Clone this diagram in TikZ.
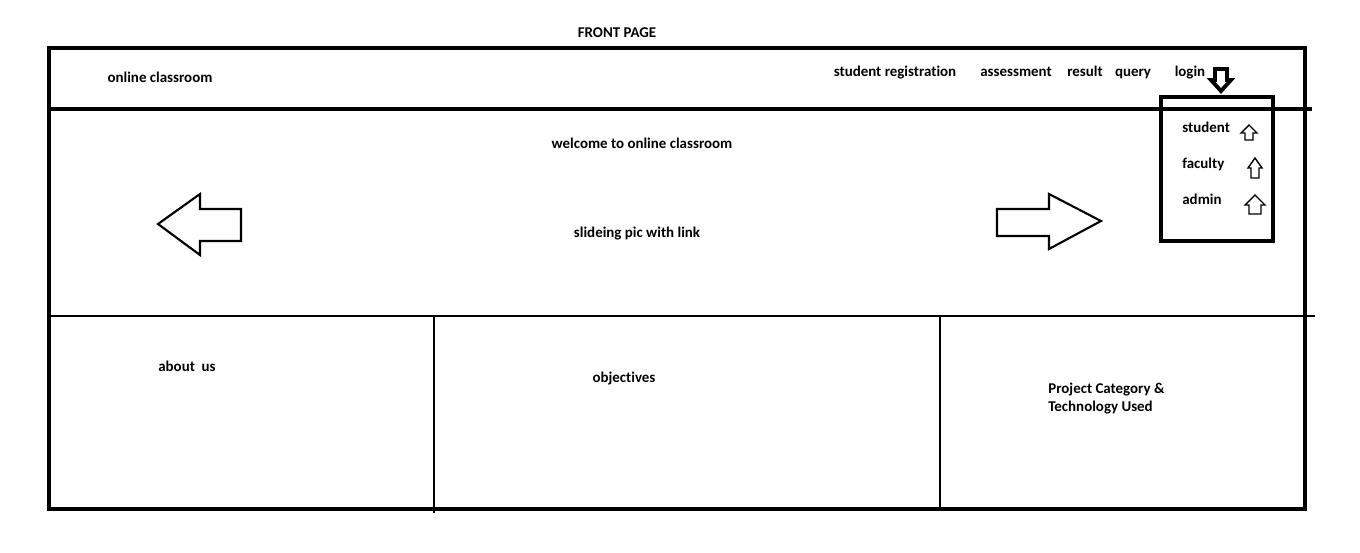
\documentclass[tikz,border=0pt]{standalone}
\usepackage{fontspec}
\setmainfont[Ligatures={NoCommon}]{Carlito}
\usetikzlibrary{positioning}
\tikzstyle{label} = [
	font = \fontsize{8.5}{10}\selectfont\bfseries,
	inner sep = 0pt,
	text height = 1.5ex,
	text depth = 0.4ex
]
\tikzstyle{frame} = [draw, line width = 2.3pt]
\tikzstyle{divider} = [draw, line width = 1.4pt]
\tikzstyle{outline} = [draw, line width = 0.8pt, line join = miter, fill = white]

\begin{document}
\begin{tikzpicture}[x=0.02cm, y=-0.02cm]
	\useasboundingbox (0,0) rectangle (1360,552);
	
	% page frame
	\draw[frame] (49,48) rectangle (1305,509);
	\draw[frame] (49,109) -- (1312,109);
	\draw[divider] (49,316) -- (1315,316);
	\draw[divider] (434,316) -- (434,513);
	\draw[divider] (940,316) -- (940,509);
	
	% login menu
	\draw[frame] (1161,97) rectangle (1273,241);
	
	% slider arrows
	\draw[outline, line width = 1.2pt] (158,224) -- (200,194) -- (200,209) -- (241,209) -- (241,241) -- (200,241) -- (200,255) -- cycle;
	\draw[outline, line width = 1.2pt] (1101,221) -- (1049,194) -- (1049,209) -- (997,209) -- (997,236) -- (1049,236) -- (1049,249) -- cycle;
	
	% login arrow
	\draw[outline, line width = 2.2pt] (1221,91) -- (1211,80) -- (1215,80) -- (1215,69) -- (1227,69) -- (1227,80) -- (1231,80) -- cycle;
	
	% menu arrows
	\draw[outline] (1249,125) -- (1257,133) -- (1253,133) -- (1253,140) -- (1245,140) -- (1245,133) -- (1241,133) -- cycle;
	\draw[outline] (1255,158) -- (1262,168) -- (1259,168) -- (1259,178) -- (1251,178) -- (1251,168) -- (1248,168) -- cycle;
	\draw[outline] (1255,195) -- (1265,205) -- (1261,205) -- (1261,214) -- (1249,214) -- (1249,205) -- (1245,205) -- cycle;
	
	% texts
	\node[label] (title) at (617,33) {FRONT PAGE};
	\node[label] (brand) at (160,78) {online classroom};
	\node[label] (register) at (895,72) {student registration};
	\node[label] (assess) at (1016,72) {assessment};
	\node[label] (result) at (1085,72) {result};
	\node[label] (query) at (1133,72) {query};
	\node[label] (login) at (1190,72) {login};
	\node[label] (welcome) at (642,144) {welcome to online classroom};
	\node[label] (slider) at (637,233) {slideing pic with link};
	\node[label, anchor = west] (student) at (1182,128) {student};
	\node[label, anchor = west] (faculty) at (1182,164) {faculty};
	\node[label, anchor = west] (admin) at (1182,200) {admin};
	\node[label] (about) at (187,367) {about\ \ us};
	\node[label] (objectives) at (624,378) {objectives};
	\node[label, anchor = west] (project) at (1048,389) {Project Category \&};
	\node[label, anchor = west] (tech) at (1048,407) {Technology Used};
\end{tikzpicture}
\end{document}
